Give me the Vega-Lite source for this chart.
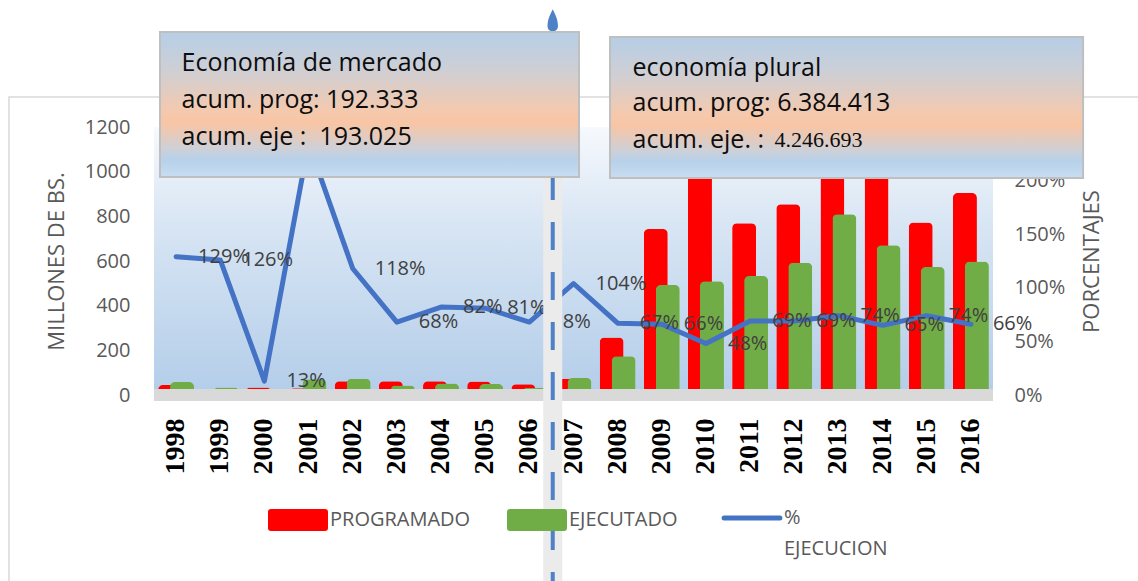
{
  "$schema": "https://vega.github.io/schema/vega-lite/v6.json",
  "width": 839,
  "height": 268,
  "autosize": {"type": "none"},
  "padding": {"left": 154, "top": 127, "right": 145, "bottom": 186},
  "background": "white",
  "view": {
    "stroke": null,
    "fill": {"gradient": "linear", "x1": 0, "y1": 0, "x2": 0, "y2": 1,
      "stops": [{"offset": 0, "color": "#f6f9fd"}, {"offset": 0.35, "color": "#d9e6f4"}, {"offset": 1, "color": "#b3cde9"}]}
  },
  "config": {
    "view": {"stroke": null},
    "axis": {"labelFont": "Open Sans", "titleFont": "Open Sans"},
    "text": {"font": "Open Sans"}
  },
  "data": {
    "values": [
      {"year": "1998", "prog": 45, "ejec": 58, "pct": 1.29},
      {"year": "1999", "prog": 27, "ejec": 34, "pct": 1.26},
      {"year": "2000", "prog": 34, "ejec": 4.5, "pct": 0.13},
      {"year": "2001", "prog": 30, "ejec": 70, "pct": 2.35},
      {"year": "2002", "prog": 62, "ejec": 73, "pct": 1.18},
      {"year": "2003", "prog": 62, "ejec": 42, "pct": 0.68},
      {"year": "2004", "prog": 62, "ejec": 51, "pct": 0.82},
      {"year": "2005", "prog": 60, "ejec": 49, "pct": 0.81},
      {"year": "2006", "prog": 48, "ejec": 33, "pct": 0.68},
      {"year": "2007", "prog": 73, "ejec": 76, "pct": 1.04},
      {"year": "2008", "prog": 258, "ejec": 174, "pct": 0.67},
      {"year": "2009", "prog": 743, "ejec": 492, "pct": 0.66},
      {"year": "2010", "prog": 1060, "ejec": 509, "pct": 0.48},
      {"year": "2011", "prog": 769, "ejec": 533, "pct": 0.69},
      {"year": "2012", "prog": 854, "ejec": 592, "pct": 0.69},
      {"year": "2013", "prog": 1093, "ejec": 809, "pct": 0.74},
      {"year": "2014", "prog": 1031, "ejec": 670, "pct": 0.65},
      {"year": "2015", "prog": 772, "ejec": 573, "pct": 0.74},
      {"year": "2016", "prog": 905, "ejec": 598, "pct": 0.66}
    ]
  },
  "layer": [
    {
      "data": {"values": [{}]},
      "mark": {"type": "rect", "filled": false, "stroke": "#d9d9d9", "strokeWidth": 1.5},
      "encoding": {
        "x": {"datum": -3.284, "type": "quantitative", "scale": {"domain": [0, 19], "nice": false, "zero": false}, "axis": null},
        "x2": {"datum": 22.44},
        "y": {"datum": 1334, "type": "quantitative", "scale": {"domain": [0, 1200], "nice": false, "zero": false}, "axis": null},
        "y2": {"datum": -873}
      }
    },
    {
      "layer": [
        {
          "mark": {"type": "bar", "width": 24, "xOffset": -6, "cornerRadiusTopLeft": 5, "cornerRadiusTopRight": 5},
          "encoding": {
            "x": {"field": "year", "type": "ordinal", "scale": {"paddingInner": 0, "paddingOuter": 0},
              "axis": {"title": null, "labelAngle": -90, "labelFont": "Liberation Serif", "labelFontWeight": "bold", "labelFontSize": 28, "labelColor": "#000000", "ticks": false, "domain": false, "labelPadding": 23, "grid": false}},
            "y": {"field": "prog", "type": "quantitative", "scale": {"domain": [0, 1200], "nice": false},
              "axis": {"title": "MILLONES DE BS.", "titleFontSize": 22, "titleFontWeight": "normal", "titleColor": "#595959", "titlePadding": 16,
                "labelFontSize": 20, "labelColor": "#595959", "ticks": false, "domain": false, "labelPadding": 24, "format": "d",
                "values": [0, 200, 400, 600, 800, 1000, 1200], "gridColor": "#d9d9d9", "gridWidth": 1.3}},
            "color": {"datum": "PROGRAMADO", "type": "nominal",
              "scale": {"domain": ["PROGRAMADO", "EJECUTADO", "% EJECUCION"], "range": ["#FF0000", "#70AD47", "#4472C4"]},
              "legend": {
                "orient": "none", "legendX": 114, "legendY": 355, "direction": "horizontal", "columns": 3,
                "title": null, "symbolSize": 3600, "symbolOffset": 20, "columnPadding": 36, "labelOffset": 22, "padding": 0, "zindex": 0,
                "labelFont": "Open Sans", "labelFontSize": 20, "labelColor": "#595959", "labelLimit": 300,
                "labelExpr": "datum.label === '% EJECUCION' ? ['%', 'EJECUCION'] : datum.label",
                "encode": {
                  "symbols": {"update": {
                    "shape": {"signal": "datum.value === '% EJECUCION' ? 'M-0.93,0.867H0.93' : 'M-0.9,-0.367H0.9Q1,-0.367 1,-0.267V0.267Q1,0.367 0.9,0.367H-0.9Q-1,0.367 -1,0.267V-0.267Q-1,-0.367 -0.9,-0.367Z'"},
                    "fill": {"signal": "datum.value === 'PROGRAMADO' ? '#FF0000' : datum.value === 'EJECUTADO' ? '#70AD47' : 'transparent'"},
                    "stroke": {"signal": "datum.value === '% EJECUCION' ? '#4472C4' : 'transparent'"},
                    "strokeWidth": {"signal": "datum.value === '% EJECUCION' ? 5 : 0"},
                    "strokeCap": {"value": "round"},
                    "opacity": {"value": 1}
                  }},
                  "labels": {"update": {
                    "lineHeight": {"value": 31},
                    "baseline": {"signal": "datum.value === '% EJECUCION' ? 'top' : 'middle'"},
                    "dy": {"signal": "datum.value === '% EJECUCION' ? 16 : 0"}
                  }}
                }
              }}
          }
        },
        {
          "mark": {"type": "bar", "width": 24, "xOffset": 6, "cornerRadiusTopLeft": 5, "cornerRadiusTopRight": 5},
          "encoding": {
            "x": {"field": "year", "type": "ordinal"},
            "y": {"field": "ejec", "type": "quantitative"},
            "color": {"datum": "EJECUTADO", "type": "nominal"}
          }
        },
        {
          "data": {"values": [{}]},
          "mark": {"type": "rect", "color": "#d9d9d9"},
          "encoding": {
            "y": {"datum": 27, "type": "quantitative"},
            "y2": {"datum": -27}
          }
        }
      ]
    },
    {
      "layer": [
        {
          "mark": {"type": "line", "strokeWidth": 5, "strokeJoin": "round", "strokeCap": "round"},
          "encoding": {
            "x": {"field": "year", "type": "ordinal", "scale": {"paddingInner": 0, "paddingOuter": 0}, "axis": null},
            "y": {"field": "pct", "type": "quantitative", "scale": {"domain": [0, 2.5], "nice": false},
              "axis": {"orient": "right", "title": "PORCENTAJES", "titleAngle": 270, "titleFontSize": 22, "titleFontWeight": "normal", "titleColor": "#595959", "titlePadding": 39,
                "labelFontSize": 20, "labelColor": "#595959", "ticks": false, "domain": false, "labelPadding": 21, "grid": false,
                "format": ".0%", "values": [0, 0.5, 1, 1.5, 2, 2.5]}},
            "color": {"datum": "% EJECUCION", "type": "nominal"}
          }
        },
        {
          "mark": {"type": "text", "align": "left", "baseline": "middle", "dx": 22, "font": "Open Sans", "fontSize": 20, "color": "#404040"},
          "encoding": {
            "x": {"field": "year", "type": "ordinal"},
            "y": {"field": "pct", "type": "quantitative"},
            "text": {"field": "pct", "type": "quantitative", "format": ".0%"}
          }
        }
      ]
    },
    {
      "data": {"values": [{}]},
      "layer": [
        {
          "mark": {"type": "rule", "color": "#ebebeb", "strokeWidth": 19},
          "encoding": {
            "x": {"datum": 9.03, "type": "quantitative", "scale": {"domain": [0, 19], "nice": false, "zero": false}, "axis": null},
            "y": {"datum": -918, "type": "quantitative", "scale": {"domain": [0, 1200], "nice": false, "zero": false}, "axis": null},
            "y2": {"datum": 1621}
          }
        },
        {
          "mark": {"type": "rule", "color": "#4f81c7", "strokeWidth": 4, "strokeDash": [28, 22]},
          "encoding": {
            "x": {"datum": 9.03, "type": "quantitative"},
            "y": {"datum": -918, "type": "quantitative"},
            "y2": {"datum": 1621}
          }
        },
        {
          "mark": {"type": "point", "filled": true, "color": "#4f81c7", "opacity": 1, "size": 538,
            "shape": "M0,-1C0.25,-0.5 0.45,-0.1 0.45,0.45A0.45,0.45 0 1 1 -0.45,0.45C-0.45,-0.1 -0.25,-0.5 0,-1Z"},
          "encoding": {
            "x": {"datum": 9.03, "type": "quantitative"},
            "y": {"datum": 1675, "type": "quantitative"}
          }
        },
        {
          "mark": {"type": "rect", "stroke": "#bfbfbf", "strokeWidth": 2,
            "fill": {"gradient": "linear", "x1": 0, "y1": 0, "x2": 0, "y2": 1,
              "stops": [{"offset": 0, "color": "#b6cee6"}, {"offset": 0.25, "color": "#cdcfd6"}, {"offset": 0.55, "color": "#f5c9ad"}, {"offset": 0.63, "color": "#f8c5a5"}, {"offset": 0.8, "color": "#cfd0d6"}, {"offset": 0.88, "color": "#b7d1ea"}, {"offset": 1, "color": "#c7ddf1"}]}},
          "encoding": {
            "x": {"datum": 0.136, "type": "quantitative"},
            "x2": {"datum": 9.625},
            "y": {"datum": 1625.4, "type": "quantitative"},
            "y2": {"datum": 976.1}
          }
        },
        {
          "mark": {"type": "rect", "stroke": "#bfbfbf", "strokeWidth": 2,
            "fill": {"gradient": "linear", "x1": 0, "y1": 0, "x2": 0, "y2": 1,
              "stops": [{"offset": 0, "color": "#b6cee6"}, {"offset": 0.25, "color": "#cdcfd6"}, {"offset": 0.55, "color": "#f5c9ad"}, {"offset": 0.63, "color": "#f8c5a5"}, {"offset": 0.8, "color": "#cfd0d6"}, {"offset": 0.88, "color": "#b7d1ea"}, {"offset": 1, "color": "#c7ddf1"}]}},
          "encoding": {
            "x": {"datum": 10.327, "type": "quantitative"},
            "x2": {"datum": 21.04},
            "y": {"datum": 1603, "type": "quantitative"},
            "y2": {"datum": 971.6}
          }
        },
        {
          "mark": {"type": "text", "align": "left", "baseline": "middle", "font": "Open Sans", "fontSize": 25, "color": "#0d0d0d"},
          "encoding": {"x": {"datum": 0.623, "type": "quantitative"}, "y": {"datum": 1486.6, "type": "quantitative"}, "text": {"value": "Economía de mercado"}}
        },
        {
          "mark": {"type": "text", "align": "left", "baseline": "middle", "font": "Open Sans", "fontSize": 25, "color": "#0d0d0d"},
          "encoding": {"x": {"datum": 0.623, "type": "quantitative"}, "y": {"datum": 1320.9, "type": "quantitative"}, "text": {"value": "acum. prog: 192.333"}}
        },
        {
          "mark": {"type": "text", "align": "left", "baseline": "middle", "font": "Open Sans", "fontSize": 25, "color": "#0d0d0d"},
          "encoding": {"x": {"datum": 0.623, "type": "quantitative"}, "y": {"datum": 1155.2, "type": "quantitative"}, "text": {"value": "acum. eje :\u00a0 193.025"}}
        },
        {
          "mark": {"type": "text", "align": "left", "baseline": "middle", "font": "Open Sans", "fontSize": 25, "color": "#0d0d0d"},
          "encoding": {"x": {"datum": 10.838, "type": "quantitative"}, "y": {"datum": 1464.2, "type": "quantitative"}, "text": {"value": "economía plural"}}
        },
        {
          "mark": {"type": "text", "align": "left", "baseline": "middle", "font": "Open Sans", "fontSize": 25, "color": "#0d0d0d"},
          "encoding": {"x": {"datum": 10.838, "type": "quantitative"}, "y": {"datum": 1307.5, "type": "quantitative"}, "text": {"value": "acum. prog: 6.384.413"}}
        },
        {
          "mark": {"type": "text", "align": "left", "baseline": "middle", "font": "Open Sans", "fontSize": 25, "color": "#0d0d0d"},
          "encoding": {"x": {"datum": 10.838, "type": "quantitative"}, "y": {"datum": 1141.8, "type": "quantitative"}, "text": {"value": "acum. eje. : "}}
        },
        {
          "mark": {"type": "text", "align": "left", "baseline": "middle", "font": "Liberation Serif", "fontSize": 22, "color": "#0d0d0d"},
          "encoding": {"x": {"datum": 14.054, "type": "quantitative"}, "y": {"datum": 1141.8, "type": "quantitative"}, "text": {"value": "4.246.693"}}
        }
      ]
    }
  ],
  "resolve": {"scale": {"x": "independent", "y": "independent"}}
}
